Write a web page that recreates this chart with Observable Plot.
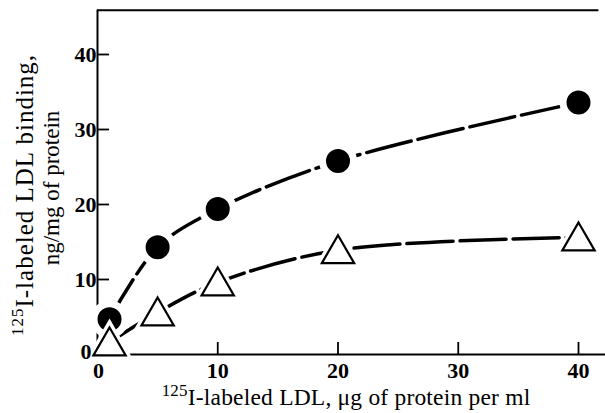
<!DOCTYPE html>
<html>
<head>
<meta charset="utf-8">
<script src="https://cdn.jsdelivr.net/npm/d3@7"></script>
<script src="https://cdn.jsdelivr.net/npm/@observablehq/plot@0.6"></script>
<style>
  html, body { margin: 0; padding: 0; background: #fff; }
  #chart svg { display: block; }
</style>
</head>
<body>
<div id="chart"></div>
<script>
// Data
const conc = [1, 5, 10, 20, 40];                 // 125I-labeled LDL, µg/ml
const circleBinding = [4.7, 14.3, 19.4, 25.8, 33.6];   // filled circles
const triangleBinding = [1.6, 5.6, 9.6, 13.9, 15.6];   // open triangles
const xTicks = [0, 10, 20, 30, 40];
const yTicks = [0, 10, 20, 30, 40];
const xTitle = ["125", "I-labeled LDL, \u03BCg of protein per ml"];
const yTitle1 = ["125", "I-labeled LDL binding,"];
const yTitle2 = "ng/mg of protein";

const circles = conc.map((c, i) => ({x: c, y: circleBinding[i]}));
const triangles = conc.map((c, i) => ({x: c, y: triangleBinding[i]}));

const font = "'Liberation Serif', 'Times New Roman', serif";
const yTop = 45.9;

const chart = Plot.plot({
  width: 605,
  height: 413,
  x: {domain: [0, 40], range: [97, 578], axis: null},
  y: {domain: [0, 40], range: [354, 54], axis: null},
  style: {fontFamily: font, background: "white", overflow: "visible"},
  marks: [
    // frame lines
    Plot.ruleY([0], {x1: 0, x2: 42.3, stroke: "black", strokeWidth: 2}),
    Plot.ruleY([yTop], {x1: 0, x2: 41.7, stroke: "black", strokeWidth: 2}),
    Plot.ruleX([0], {y1: 0, y2: yTop, stroke: "black", strokeWidth: 2}),
    // inward ticks
    Plot.ruleX(xTicks.filter(d => d > 0), {x: d => d, y1: 0, y2: 1.6, stroke: "black", strokeWidth: 1.8}),
    Plot.ruleY(yTicks.filter(d => d > 0), {y: d => d, x1: 0, x2: 1.0, stroke: "black", strokeWidth: 1.8}),
    // curves
    Plot.line(circles, {x: "x", y: "y", curve: "catmull-rom", stroke: "black", strokeWidth: 3.5, strokeDasharray: "46 7"}),
    Plot.line(triangles, {x: "x", y: "y", curve: "catmull-rom", stroke: "black", strokeWidth: 3.5, strokeDasharray: "46 7"}),
    // circle markers with white halo
    Plot.dot(circles, {x: "x", y: "y", r: 15.5, fill: "black", stroke: "white", strokeWidth: 7}),
    // triangle markers with white halo
    Plot.dot(triangles, {x: "x", y: "y", symbol: "triangle", r: 12, dy: 3.6, fill: "white", stroke: "white", strokeWidth: 9}),
    Plot.dot(triangles, {x: "x", y: "y", symbol: "triangle", r: 12, dy: 3.6, fill: "white", stroke: "black", strokeWidth: 2.2}),
    // tick labels
    Plot.text(xTicks.filter(d => d > 0), {x: d => d, y: 0, dy: 16, text: d => String(d), fontSize: 22, fontWeight: "bold", fill: "black"}),
    Plot.text([0], {x: 0, y: 0, dx: 1, dy: 16, text: d => String(d), fontSize: 22, fontWeight: "bold", fill: "black"}),
    Plot.text(yTicks.filter(d => d > 0), {x: 0, y: d => d, dx: -1, text: d => String(d), textAnchor: "end", fontSize: 22, fontWeight: "bold", fill: "black"}),
    Plot.text([0], {x: 0, y: 0, dx: -6, dy: -3, text: d => String(d), textAnchor: "end", fontSize: 22, fontWeight: "bold", fill: "black"})
  ]
});

const svg = d3.select(chart);

// x-axis title
const xt = svg.append("text")
  .attr("x", 346).attr("y", 405)
  .attr("text-anchor", "middle")
  .attr("font-family", font).attr("font-size", 23.5).attr("letter-spacing", 0.2).attr("fill", "black");
xt.append("tspan").attr("font-size", 17).attr("dy", -9).text(xTitle[0]);
xt.append("tspan").attr("dy", 9).text(xTitle[1]);

// y-axis title, line 1
const yt1 = svg.append("text")
  .attr("transform", "translate(33,195) rotate(-90)")
  .attr("text-anchor", "middle")
  .attr("font-family", font).attr("font-size", 25).attr("letter-spacing", 1).attr("fill", "black");
yt1.append("tspan").attr("font-size", 17).attr("dy", -10).text(yTitle1[0]);
yt1.append("tspan").attr("dy", 10).text(yTitle1[1]);

// y-axis title, line 2
svg.append("text")
  .attr("transform", "translate(59,188) rotate(-90)")
  .attr("text-anchor", "middle")
  .attr("font-family", font).attr("font-size", 23).attr("fill", "black")
  .text(yTitle2);

document.getElementById("chart").appendChild(chart);
</script>
</body>
</html>
